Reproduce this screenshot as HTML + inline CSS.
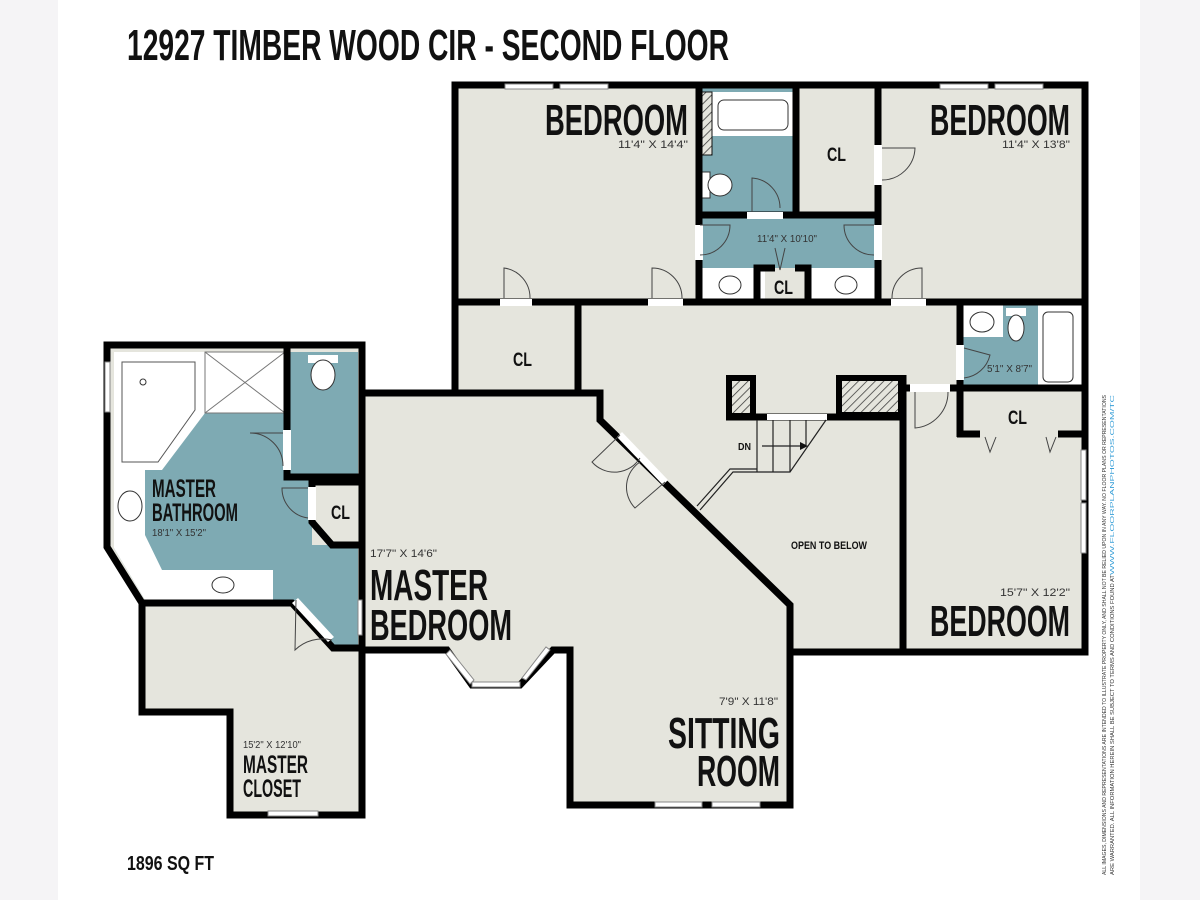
<!DOCTYPE html>
<html><head><meta charset="utf-8"><style>
html,body{margin:0;padding:0;background:#fff;}
body{width:1200px;height:900px;overflow:hidden;}
text{font-family:"Liberation Sans Narrow","Liberation Sans",sans-serif;font-weight:bold;fill:#111;}
.s{font-weight:normal;fill:#333;}
</style></head><body>
<svg width="1200" height="900" viewBox="0 0 1200 900" xmlns="http://www.w3.org/2000/svg">
<defs>
<pattern id="h" width="6" height="6" patternUnits="userSpaceOnUse" patternTransform="rotate(45)">
<rect width="6" height="6" fill="#e5e5dd"/><line x1="0" y1="0" x2="0" y2="6" stroke="#333" stroke-width="1.5"/></pattern>
</defs>
<rect x="0" y="0" width="58" height="900" fill="#f5f4f6"/>
<rect x="1140" y="0" width="60" height="900" fill="#f5f4f6"/>
<text x="127" y="60" font-size="44" textLength="602" lengthAdjust="spacingAndGlyphs">12927 TIMBER WOOD CIR - SECOND FLOOR</text>

<polygon fill="#e5e5dd" points="455,85 1085,85 1085,652 790,652 790,805 570,805 570,650 553,650 520,685 472,685 447,650 362,650 362,815 230,815 230,712 140,712 140,603 107,547 107,345 362,345 362,393 455,393"/>
<polygon fill="#7eaab3" points="114,352 358,352 358,645 333,645 292,600 145,600 114,548"/>
<polygon fill="#fff" points="114,352 205,352 205,413 162,470 114,470"/>
<path d="M122,362 L195,362 L195,410 L158,462 L122,462 Z" fill="none" stroke="#555" stroke-width="1"/>
<circle cx="143" cy="382" r="3" fill="none" stroke="#333"/>
<rect x="205" y="352" width="80" height="61" fill="#fff" stroke="#777" stroke-width="1"/>
<path d="M205,352 L285,413 M285,352 L205,413" stroke="#777" stroke-width="1"/>
<polygon fill="#fff" points="114,470 145,470 145,535 162,570 273,570 273,600 145,600 114,548"/>
<ellipse cx="130" cy="506" rx="12" ry="15" fill="none" stroke="#333"/>
<ellipse cx="223" cy="585" rx="11" ry="8" fill="none" stroke="#333"/>
<rect x="312" y="480" width="46" height="65" fill="#e5e5dd"/>
<polygon fill="#e5e5dd" points="312,520 332,545 312,545"/>
<rect x="308" y="355" width="30" height="8" fill="#fff"/><ellipse cx="323" cy="375" rx="12" ry="15" fill="#fff" stroke="#333"/>
<rect x="699" y="88" width="97" height="127" fill="#7eaab3"/>
<rect x="712" y="92" width="84" height="44" fill="#fff"/>
<rect x="718" y="100" width="70" height="30" rx="6" fill="none" stroke="#333"/>
<rect x="699" y="92" width="13" height="63" fill="url(#h)" stroke="#111" stroke-width="1"/>
<rect x="700" y="172" width="10" height="26" fill="#fff" stroke="#333"/><ellipse cx="720" cy="185" rx="12" ry="11" fill="#fff" stroke="#333"/>
<rect x="699" y="215" width="179" height="53" fill="#7eaab3"/>
<rect x="699" y="268" width="66" height="34" fill="#fff"/><rect x="811" y="268" width="67" height="34" fill="#fff"/>
<ellipse cx="730" cy="285" rx="11" ry="9" fill="none" stroke="#333"/><ellipse cx="846" cy="285" rx="11" ry="9" fill="none" stroke="#333"/>
<rect x="960" y="305" width="125" height="83" fill="#7eaab3"/>
<rect x="963" y="305" width="40" height="32" fill="#fff"/><ellipse cx="982" cy="322" rx="12" ry="10" fill="none" stroke="#333"/>
<rect x="1038" y="305" width="45" height="83" fill="#fff"/><rect x="1043" y="312" width="30" height="70" rx="5" fill="none" stroke="#333"/>
<rect x="1006" y="308" width="20" height="8" fill="#fff"/><ellipse cx="1016" cy="328" rx="8" ry="13" fill="#fff" stroke="#333"/>

<g fill="none" stroke="#000" stroke-width="7" stroke-linejoin="miter">
<polygon points="455,85 1085,85 1085,652 790,652 790,805 570,805 570,650 553,650 520,685 472,685 447,650 362,650 362,815 230,815 230,712 142,712 142,603 107,547 107,345 362,345 362,393 455,393"/>
<line x1="455" y1="302" x2="1085" y2="302"/>
<line x1="578" y1="302" x2="578" y2="393"/>
<polyline points="362,393 600,393 600,420 790,605 790,652"/>
<line x1="362" y1="393" x2="362" y2="650"/>
<polyline points="142,603 292,603 333,648 362,648"/>
<polyline points="287,348 287,477 362,477"/>
<polyline points="362,482 312,482 312,522 332,545 362,545"/>
<line x1="699" y1="85" x2="699" y2="302"/>
<line x1="796" y1="85" x2="796" y2="215"/>
<line x1="699" y1="215" x2="878" y2="215"/>
<line x1="878" y1="85" x2="878" y2="302"/>
<polyline points="757,302 757,268 775,268"/>
<polyline points="795,268 808,268 808,302"/>
<line x1="903" y1="375" x2="903" y2="652"/>
<line x1="903" y1="388" x2="1085" y2="388"/>
<line x1="960" y1="302" x2="960" y2="437"/>
<line x1="957" y1="434" x2="980" y2="434"/>
<line x1="1058" y1="434" x2="1085" y2="434"/>
<line x1="726" y1="417" x2="905" y2="417"/>
</g>
<rect x="729" y="378" width="24" height="38" fill="url(#h)" stroke="#000" stroke-width="6"/>
<rect x="839" y="378" width="62" height="37" fill="url(#h)" stroke="#000" stroke-width="6"/>
<rect x="767" y="414" width="60" height="6" fill="#fff"/>
<g stroke="#222" stroke-width="1.2" fill="none">
<line x1="757" y1="420" x2="757" y2="472"/><line x1="773" y1="420" x2="773" y2="472"/><line x1="790" y1="420" x2="790" y2="472"/><line x1="806" y1="420" x2="806" y2="445"/>
<polyline points="700,510 733,472 790,472 826,420"/><polyline points="697,506 730,469 757,469"/>
<line x1="762" y1="446" x2="800" y2="446"/></g>
<polygon points="800,442 808,446 800,450" fill="#111"/>

<g fill="#fff" stroke="#888" stroke-width="1">
<rect x="505" y="84" width="48" height="5"/><rect x="560" y="84" width="48" height="5"/>
<rect x="940" y="84" width="48" height="5"/><rect x="995" y="84" width="48" height="5"/>
<rect x="655" y="802" width="47" height="5"/><rect x="712" y="802" width="48" height="5"/>
<rect x="268" y="811" width="50" height="5"/>
<rect x="1081" y="450" width="5" height="50"/><rect x="1081" y="503" width="5" height="50"/>
<rect x="105" y="362" width="5" height="50"/>
<rect x="472" y="682" width="48" height="5"/>
<polygon points="450,650 474,680 470,684 446,654"/><polygon points="550,650 526,680 522,678 546,647"/>
<rect x="358" y="600" width="4" height="35"/>
</g>
<g fill="#fff"><rect x="500" y="299" width="32" height="7"/><rect x="648" y="299" width="35" height="7"/><rect x="891" y="299" width="35" height="7"/>
<rect x="695" y="225" width="8" height="35"/><rect x="874" y="225" width="8" height="35"/><rect x="747" y="212" width="36" height="7"/>
<rect x="874" y="145" width="8" height="40"/><rect x="956" y="345" width="8" height="35"/><rect x="910" y="384" width="40" height="8"/>
<rect x="283" y="430" width="8" height="40"/><rect x="308" y="487" width="8" height="33"/>
<polygon points="617,437 622,432 668,480 663,485"/><polygon points="292,603 298,598 334,637 328,642"/></g>
<g fill="none" stroke="#444" stroke-width="1">
<path d="M504,298 V268 A30,30 0 0 1 530,298"/><path d="M652,298 V268 A30,30 0 0 1 682,298"/><path d="M922,298 V268 A30,30 0 0 0 892,298"/>
<path d="M700,225 H730 A30,30 0 0 1 700,255"/><path d="M874,225 H844 A30,30 0 0 0 874,255"/><path d="M752,212 V178 A30,30 0 0 1 780,208"/>
<path d="M882,148 H915 A33,33 0 0 1 882,180"/><path d="M964,348 L990,355 A30,30 0 0 1 964,378"/><path d="M915,392 V428 A36,36 0 0 0 948,392"/>
<path d="M283,433 H250 A33,33 0 0 1 283,466"/><path d="M308,488 H282 A30,30 0 0 0 308,518"/>
<path d="M620,435 L592,462 A30,30 0 0 0 640,458"/><path d="M665,482 L635,508 A30,30 0 0 1 640,462"/>
<path d="M296,600 L295,650 A40,40 0 0 1 332,640"/>
<path d="M985,437 L990,452 L996,437 M1046,437 L1050,452 L1056,437"/>
<path d="M775,248 L780,270 L785,248"/>
</g>

<text x="545" y="135" font-size="44" textLength="143" lengthAdjust="spacingAndGlyphs">BEDROOM</text>
<text class="s" x="618" y="148" font-size="11" textLength="70" lengthAdjust="spacingAndGlyphs">11'4" X 14'4"</text>
<text x="930" y="135" font-size="44" textLength="140" lengthAdjust="spacingAndGlyphs">BEDROOM</text>
<text class="s" x="1002" y="148" font-size="11" textLength="68" lengthAdjust="spacingAndGlyphs">11'4" X 13'8"</text>
<text x="827" y="161" font-size="19" textLength="19" lengthAdjust="spacingAndGlyphs">CL</text>
<text class="s" x="757" y="242" font-size="10" textLength="60" lengthAdjust="spacingAndGlyphs">11'4" X 10'10"</text>
<text x="774" y="294" font-size="19" textLength="19" lengthAdjust="spacingAndGlyphs">CL</text>
<text x="513" y="366" font-size="19" textLength="19" lengthAdjust="spacingAndGlyphs">CL</text>
<text class="s" x="987" y="372" font-size="10" textLength="45" lengthAdjust="spacingAndGlyphs">5'1" X 8'7"</text>
<text x="1008" y="424" font-size="19" textLength="19" lengthAdjust="spacingAndGlyphs">CL</text>
<text x="738" y="450" font-size="10" textLength="13" lengthAdjust="spacingAndGlyphs">DN</text>
<text x="791" y="549" font-size="11" textLength="76" lengthAdjust="spacingAndGlyphs">OPEN TO BELOW</text>
<text class="s" x="1000" y="596" font-size="11" textLength="70" lengthAdjust="spacingAndGlyphs">15'7" X 12'2"</text>
<text x="930" y="636" font-size="44" textLength="140" lengthAdjust="spacingAndGlyphs">BEDROOM</text>
<text x="152" y="497" font-size="25" textLength="64" lengthAdjust="spacingAndGlyphs" fill="#333">MASTER</text>
<text x="152" y="521" font-size="25" textLength="86" lengthAdjust="spacingAndGlyphs" fill="#333">BATHROOM</text>
<text class="s" x="152" y="536" font-size="10" textLength="54" lengthAdjust="spacingAndGlyphs">18'1" X 15'2"</text>
<text x="331" y="519" font-size="19" textLength="19" lengthAdjust="spacingAndGlyphs">CL</text>
<text class="s" x="370" y="557" font-size="11" textLength="67" lengthAdjust="spacingAndGlyphs">17'7" X 14'6"</text>
<text x="370" y="600" font-size="44" textLength="118" lengthAdjust="spacingAndGlyphs">MASTER</text>
<text x="370" y="640" font-size="44" textLength="142" lengthAdjust="spacingAndGlyphs">BEDROOM</text>
<text class="s" x="719" y="705" font-size="11" textLength="59" lengthAdjust="spacingAndGlyphs">7'9" X 11'8"</text>
<text x="668" y="748" font-size="44" textLength="112" lengthAdjust="spacingAndGlyphs">SITTING</text>
<text x="697" y="786" font-size="44" textLength="83" lengthAdjust="spacingAndGlyphs">ROOM</text>
<text class="s" x="243" y="748" font-size="10" textLength="58" lengthAdjust="spacingAndGlyphs">15'2" X 12'10"</text>
<text x="243" y="773" font-size="25" textLength="65" lengthAdjust="spacingAndGlyphs">MASTER</text>
<text x="243" y="797" font-size="25" textLength="58" lengthAdjust="spacingAndGlyphs">CLOSET</text>
<text x="127" y="870" font-size="20" textLength="87" lengthAdjust="spacingAndGlyphs" fill="#222">1896 SQ FT</text>
<g transform="translate(1106,875) rotate(-90)">
<text class="s" x="0" y="0" font-size="5" textLength="480" lengthAdjust="spacingAndGlyphs">ALL IMAGES, DIMENSIONS AND REPRESENTATIONS ARE INTENDED TO ILLUSTRATE PROPERTY ONLY, AND SHALL NOT BE RELIED UPON IN ANY WAY. NO FLOOR PLANS OR REPRESENTATIONS</text>
<text class="s" x="0" y="8" font-size="5" textLength="300" lengthAdjust="spacingAndGlyphs">ARE WARRANTED. ALL INFORMATION HEREIN SHALL BE SUBJECT TO TERMS AND CONDITIONS FOUND AT</text>
<text x="300" y="8" font-size="5" textLength="180" lengthAdjust="spacingAndGlyphs" style="fill:#3aa0d8;font-weight:normal">WWW.FLOORPLANPHOTOS.COM/TC</text>
</g>
</svg>
</body></html>
